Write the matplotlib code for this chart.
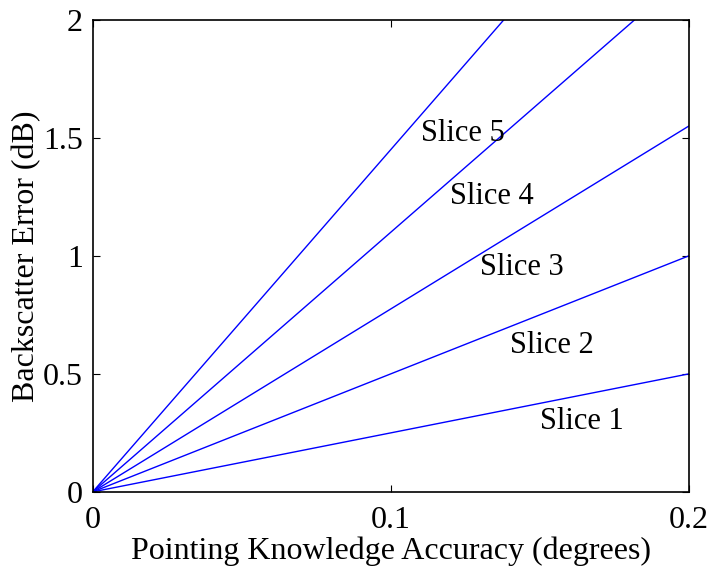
import numpy as np
import matplotlib
matplotlib.use("Agg")
from matplotlib import pyplot as plt

plt.rcParams['font.family'] = ['Liberation Serif', 'DejaVu Serif']

# error at 0.2 deg for each slice (lines through origin)
slices = ['Slice 1', 'Slice 2', 'Slice 3', 'Slice 4', 'Slice 5']
err_at_end = [0.5, 1.0, 1.55, 2.2, 2.9]
x_end = 0.2
label_x = [0.15, 0.14, 0.13, 0.12, 0.11]
label_y = [0.3, 0.62, 0.95, 1.25, 1.52]

fig = plt.figure(figsize=(7.13, 5.68), dpi=100)
ax = fig.add_axes([0.130, 0.134, 0.836, 0.831])

for name, e, lx, ly in zip(slices, err_at_end, label_x, label_y):
    ax.plot([0, x_end], [0, e], color='#0000ff', lw=1.0)
    ax.text(lx, ly, name, fontsize=22, va='center', ha='left')

ax.set_xlim(0, 0.2)
ax.set_ylim(0, 2)
ax.set_xticks([0, 0.1, 0.2])
ax.set_xticklabels(['0', '0.1', '0.2'])
ax.set_yticks([0, 0.5, 1, 1.5, 2])
ax.set_yticklabels(['0', '0.5', '1', '1.5', '2'])
ax.tick_params(direction='in', top=True, right=True, labelsize=23, length=5)
ax.tick_params(axis='x', pad=10)
ax.tick_params(axis='y', pad=7)
for s in ax.spines.values():
    s.set_linewidth(1.2)
ax.set_xlabel('Pointing Knowledge Accuracy (degrees)', fontsize=23, labelpad=1)
ax.set_ylabel('Backscatter Error (dB)', fontsize=23, labelpad=1)

fig.savefig('out.png', dpi=100)
